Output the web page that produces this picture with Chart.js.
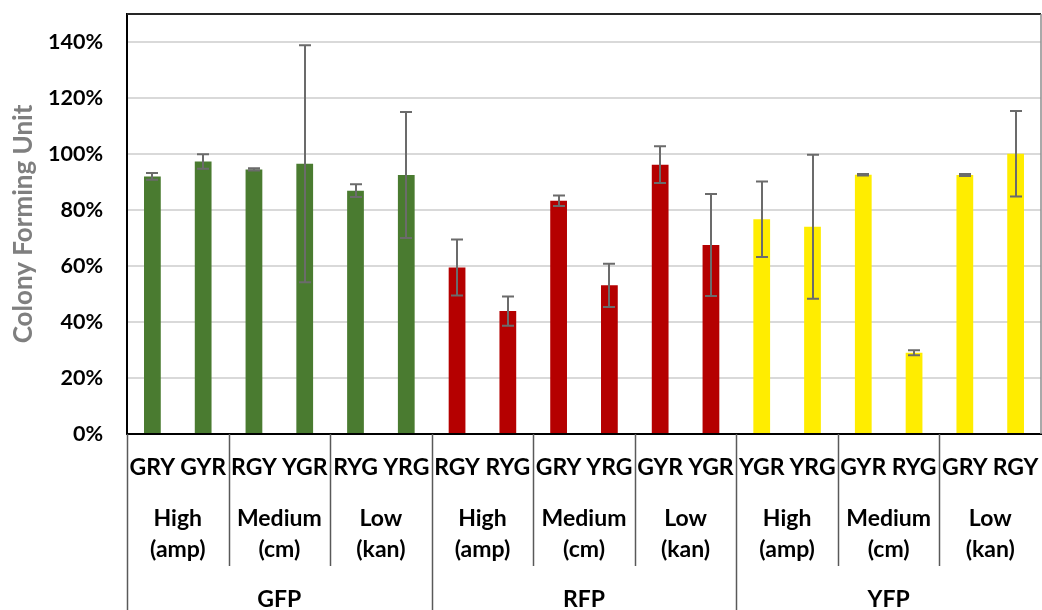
<!DOCTYPE html>
<html>
<head>
<meta charset="utf-8">
<script src="https://cdn.jsdelivr.net/npm/chart.js@4"></script>
<style>
  html, body { margin: 0; padding: 0; background: #fff; }
  #wrap { width: 1042px; height: 610px; position: relative; }
</style>
</head>
<body>
<div id="wrap"><canvas id="cfu-chart"></canvas></div>
<script>
// strain order under each bar
var strains = ['GRY','GYR','RGY','YGR','RYG','YRG',
               'RGY','RYG','GRY','YRG','GYR','YGR',
               'YGR','YRG','GYR','RYG','GRY','RGY'];
// antibiotic level, one per pair of bars
var levels = [['High','(amp)'],['Medium','(cm)'],['Low','(kan)'],
              ['High','(amp)'],['Medium','(cm)'],['Low','(kan)'],
              ['High','(amp)'],['Medium','(cm)'],['Low','(kan)']];
// reporter, one per six bars
var reporters = ['GFP','RFP','YFP'];

// colony forming unit (%) and error
var cfu = [92, 97.3, 94.5, 96.5, 86.9, 92.5,
           59.5, 43.9, 83.3, 53.1, 96.2, 67.5,
           76.7, 74, 92.6, 29, 92.5, 100.1];
var cfu_err = [1.2, 2.6, 0.4, 42.3, 2.3, 22.5,
               10, 5.2, 1.9, 7.7, 6.6, 18.2,
               13.5, 25.7, 0.3, 0.9, 0.4, 15.3];

var yTicks = [0, 20, 40, 60, 80, 100, 120, 140];

var reporterColors = {GFP: '#4a7b30', RFP: '#b50000', YFP: '#ffed00'};
var barColors = [];
var i;
for(i=0;i<cfu.length;i++){
  barColors.push(reporterColors[reporters[Math.floor(i/6)]]);
}

var FONT = 'Lato, "Open Sans", sans-serif';

// fixed axis boxes, no extra label padding around the plot
function fixWidth(w){
  return function(scale){
    scale.width = w;
    scale.paddingTop = 0; scale.paddingBottom = 0;
  };
}
function fixHeight(h){
  return function(scale){
    scale.height = h;
    scale.paddingLeft = 0; scale.paddingRight = 0;
  };
}

// error bars on top of each bar
var errorBars = {
  id: 'errorBars',
  afterDatasetsDraw: function(chart){
    var ctx = chart.ctx;
    var y = chart.scales.y;
    var meta = chart.getDatasetMeta(0);
    ctx.save();
    ctx.strokeStyle = '#6b6b6b';
    ctx.lineWidth = 2;
    meta.data.forEach(function(bar, k){
      var hi = y.getPixelForValue(cfu[k] + cfu_err[k]);
      var lo = y.getPixelForValue(cfu[k] - cfu_err[k]);
      var x = Math.round(bar.x);
      ctx.beginPath();
      ctx.moveTo(x, hi); ctx.lineTo(x, lo);
      ctx.moveTo(x-6, hi); ctx.lineTo(x+6, hi);
      ctx.moveTo(x-6, lo); ctx.lineTo(x+6, lo);
      ctx.stroke();
    });
    ctx.restore();
  }
};

// plot frame and the category separators below the axis
var frame = {
  id: 'frame',
  afterDraw: function(chart){
    var ctx = chart.ctx;
    var a = chart.chartArea;
    var x = chart.scales.x;
    ctx.save();
    ctx.strokeStyle = '#262626';
    ctx.lineWidth = 2;
    ctx.beginPath();
    ctx.moveTo(a.left, a.top); ctx.lineTo(a.right, a.top);
    ctx.stroke();
    ctx.strokeStyle = '#8c8c8c';
    ctx.lineWidth = 1.5;
    ctx.beginPath();
    ctx.moveTo(a.right, a.top); ctx.lineTo(a.right, a.bottom);
    ctx.stroke();

    ctx.strokeStyle = '#595959';
    ctx.lineWidth = 1.5;
    for(var g=0; g<9; g++){
      var px = Math.round(x.getPixelForValue(g*2 - 0.5)) + 0.5;
      var bottom = (g % 3 == 0) ? chart.height : chart.scales.x2.bottom - 4;
      ctx.beginPath();
      ctx.moveTo(px, a.bottom); ctx.lineTo(px, bottom);
      ctx.stroke();
    }
    ctx.restore();
  }
};

var canvas = document.getElementById('cfu-chart');
var ctx = canvas.getContext('2d');

var myChart = new Chart(ctx, {
  type: 'bar',
  data: {
    labels: strains,
    datasets: [{
      label: 'Colony Forming Unit',
      data: cfu,
      backgroundColor: barColors,
      borderWidth: 0,
      categoryPercentage: 1,
      barPercentage: 0.33
    }]
  },
  options: {
    animation: false,
    responsive: true,
    maintainAspectRatio: false,
    layout: { autoPadding: false, padding: { top: 14, right: 1, left: 0, bottom: 0 } },
    plugins: { legend: { display: false }, tooltip: { enabled: false } },
    scales: {
      y: {
        min: 0, max: 150,
        afterBuildTicks: function(scale){
          scale.ticks = yTicks.map(function(v){ return {value: v}; });
        },
        afterFit: fixWidth(127),
        ticks: {
          padding: 24,
          color: '#000',
          font: { family: FONT, size: 21.5, weight: 'bold' },
          callback: function(v){ return v + '%'; }
        },
        grid: { color: '#d9d9d9', lineWidth: 2, drawTicks: false },
        border: { color: '#000', width: 2 },
        title: {
          display: true,
          text: 'Colony Forming Unit',
          color: '#7f7f7f',
          padding: { top: 8, bottom: 0 },
          font: { family: FONT, size: 26, weight: 'bold' }
        }
      },
      x: {
        position: 'bottom',
        afterFit: fixHeight(58),
        grid: { display: false, drawTicks: false },
        border: { color: '#000', width: 2 },
        ticks: {
          autoSkip: false, maxRotation: 0, padding: 20,
          color: '#000',
          font: { family: FONT, size: 23, weight: 'bold' }
        }
      },
      x2: {
        type: 'category',
        position: 'bottom',
        labels: levels,
        offset: true,
        afterFit: fixHeight(78),
        grid: { display: false, drawTicks: false },
        border: { display: false },
        ticks: {
          autoSkip: false, maxRotation: 0, padding: 11,
          color: '#000',
          font: { family: FONT, size: 23, weight: 'bold', lineHeight: 1.35 }
        }
      },
      x3: {
        type: 'category',
        position: 'bottom',
        labels: reporters,
        offset: true,
        afterFit: fixHeight(40),
        grid: { display: false, drawTicks: false },
        border: { display: false },
        ticks: {
          autoSkip: false, maxRotation: 0, padding: 16,
          color: '#000',
          font: { family: FONT, size: 23, weight: 'bold' }
        }
      }
    }
  },
  plugins: [errorBars, frame]
});
</script>
</body>
</html>
